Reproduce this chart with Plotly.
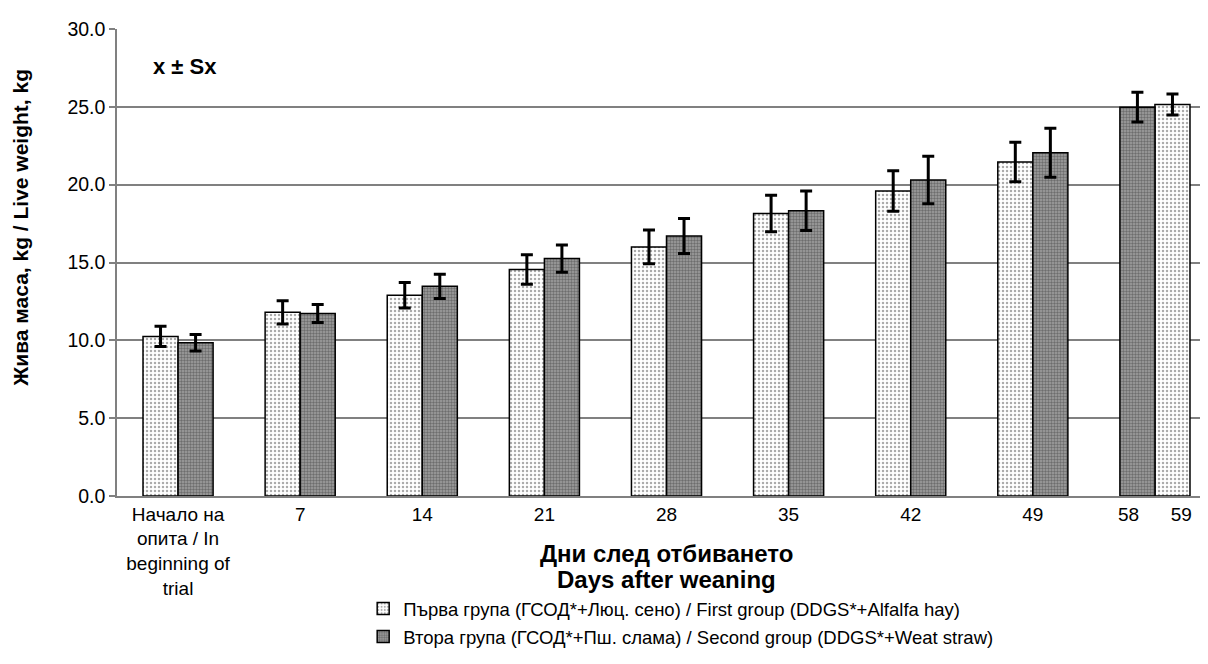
import plotly.graph_objects as go

categories = ["Начало на<br>опита / In<br>beginning of<br>trial", "7", "14", "21", "28", "35", "42", "49",
              "58\u00a0\u00a0\u00a0\u00a0\u00a0\u00a059"]
group1_name = "Първа група (ГСОД*+Люц. сено) / First group (DDGS*+Alfalfa hay)"
group2_name = "Втора група (ГСОД*+Пш. слама) / Second group (DDGS*+Weat straw)"
group1_mean = [10.25, 11.8, 12.9, 14.55, 16.0, 18.15, 19.6, 21.45, 25.15]
group1_se = [0.65, 0.75, 0.82, 0.95, 1.08, 1.17, 1.3, 1.27, 0.68]
group2_mean = [9.85, 11.72, 13.47, 15.25, 16.7, 18.33, 20.3, 22.05, 24.98]
group2_se = [0.53, 0.58, 0.78, 0.87, 1.12, 1.27, 1.52, 1.57, 0.95]

BW = 0.287
# last category: second group drawn on the left (day 58), first group on the right (day 59)
offset1 = [-BW] * 8 + [0]
offset2 = [0] * 8 + [-BW]

FONT = "Arial, Liberation Sans, sans-serif"

fig = go.Figure()
fig.add_trace(go.Bar(
    x=categories, y=group1_mean, name=group1_name, legendgroup="g1",
    width=BW, offset=offset1,
    marker=dict(color="white", line=dict(color="black", width=1.5),
                pattern=dict(shape=".", fgcolor="#555555", bgcolor="white", size=4, solidity=0.3)),
    error_y=dict(type="data", array=group1_se, visible=True, color="black", thickness=3, width=6),
))
fig.add_trace(go.Bar(
    x=categories, y=group2_mean, name=group2_name, legendgroup="g2",
    width=BW, offset=offset2,
    marker=dict(color="#8a8a8a", line=dict(color="black", width=1.5),
                pattern=dict(shape=".", fgcolor="#3a3a3a", bgcolor="#a0a0a0", size=3, solidity=0.5)),
    error_y=dict(type="data", array=group2_se, visible=True, color="black", thickness=3, width=6),
))

fig.update_layout(
    width=1208, height=664,
    margin=dict(l=109, r=0, t=21, b=176),
    paper_bgcolor="white", plot_bgcolor="white",
    font=dict(family=FONT, size=19, color="black"),
    barmode="group", bargap=0.426, bargroupgap=0,
    showlegend=True,
    legend=dict(orientation="v", x=0.224, xanchor="left", y=-0.201, yanchor="top",
                font=dict(size=18.5), tracegroupgap=1, bgcolor="rgba(0,0,0,0)",
                itemwidth=30),
)
fig.update_xaxes(
    type="category", showline=True, linecolor="#808080", linewidth=1.5,
    ticks="", showgrid=False, tickfont=dict(size=19), tickangle=0,
)
fig.update_yaxes(
    range=[0, 30], tickvals=[0, 5, 10, 15, 20, 25, 30],
    ticktext=["0.0", "5.0", "10.0", "15.0", "20.0", "25.0", "30.0"],
    showline=True, linecolor="#808080", linewidth=1.5,
    ticks="outside", ticklen=6, tickcolor="#808080", tickwidth=1.5,
    showgrid=False, zeroline=False, tickfont=dict(size=19.5),
    minor=dict(tickmode="array", tickvals=[5, 10, 15, 20, 25], showgrid=True,
               gridcolor="#808080", gridwidth=1.5, ticks=""),
)

fig.add_annotation(text="<b>x ± Sx</b>", xref="paper", yref="paper", x=0.062, y=0.92,
                   xanchor="center", yanchor="middle", showarrow=False, font=dict(size=22))
fig.add_annotation(text="<b>Жива маса, kg / Live weight, kg</b>", xref="paper", yref="paper",
                   x=-0.088, y=0.575, xanchor="center", yanchor="middle", textangle=-90,
                   showarrow=False, font=dict(size=21))
fig.add_annotation(text="<b>Дни след отбиването</b>", xref="paper", yref="paper",
                   x=0.5, y=-0.124, xanchor="center", yanchor="middle", showarrow=False, font=dict(size=24))
fig.add_annotation(text="<b>Days after weaning</b>", xref="paper", yref="paper",
                   x=0.5, y=-0.178, xanchor="center", yanchor="middle", showarrow=False, font=dict(size=24))

fig.write_html("out.html")
